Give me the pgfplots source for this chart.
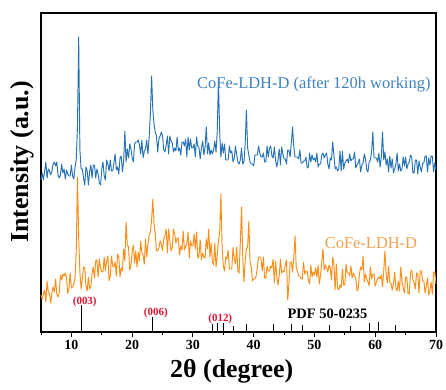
\documentclass[border=0pt]{standalone}
\usepackage{fontspec}
\setmainfont{Liberation Serif}
\usepackage{pgfplots}
\pgfplotsset{compat=1.18}
\definecolor{cblue}{RGB}{38,114,180}
\definecolor{cblueT}{RGB}{62,128,190}
\definecolor{corange}{RGB}{255,140,20}
\definecolor{corangeT}{RGB}{240,160,80}
\definecolor{cred}{RGB}{220,20,50}
\begin{document}
\begin{tikzpicture}
\begin{axis}[
  scale only axis, width=395bp, height=319bp,
  xmin=5, xmax=70, ymin=0, ymax=319,
  axis line style={line width=1.2pt},
  xtick={10,20,...,70}, minor xtick={5,15,...,65},
  ytick=\empty,
  xtick pos=bottom, tick align=outside,
  major tick length=5bp, minor tick length=3bp,
  every tick/.style={black, line width=1pt},
  /pgf/number format/assume math mode=true,
  xticklabel style={font=\fontsize{14}{16}\selectfont\bfseries},
  xlabel={2θ (degree)}, ylabel={Intensity (a.u.)},
  label style={font=\fontsize{26}{30}\selectfont\bfseries},
  xlabel style={at={(axis description cs:0.483,-0.122)}, anchor=center},
  ylabel style={at={(axis description cs:-0.048,0.533)}, anchor=center},
  clip=false,
]
\addplot[cblue, line width=0.95pt, line join=round] coordinates {
(5.0,152)(5.2,159)(5.4,152)(5.6,161)(5.8,170)(6.0,154)(6.2,163)(6.4,161)(6.6,157)(6.8,161)
(7.0,168)(7.2,170)(7.4,166)(7.6,170)(7.8,157)(8.0,154)(8.2,157)(8.4,168)(8.6,159)(8.8,163)
(9.0,153)(9.2,162)(9.4,158)(9.6,156)(9.8,156)(10.0,167)(10.2,156)(10.4,153)(10.6,165)(10.8,172)
(11.0,205)(11.2,295)(11.4,182)(11.6,163)(11.8,163)(12.0,154)(12.2,147)(12.4,165)(12.6,161)(12.8,147)
(13.0,160)(13.2,167)(13.4,154)(13.6,167)(13.8,167)(14.0,154)(14.2,163)(14.4,158)(14.6,149)(14.8,147)
(15.0,163)(15.2,170)(15.4,156)(15.6,152)(15.8,172)(16.0,168)(16.2,161)(16.4,172)(16.6,161)(16.8,161)
(17.0,169)(17.2,178)(17.4,162)(17.6,165)(17.8,158)(18.0,174)(18.2,176)(18.4,160)(18.6,171)(18.8,201)
(19.0,170)(19.2,183)(19.4,174)(19.6,188)(19.8,183)(20.0,174)(20.2,170)(20.4,188)(20.6,190)(20.8,190)
(21.0,192)(21.2,187)(21.4,178)(21.6,192)(21.8,174)(22.0,181)(22.2,183)(22.4,192)(22.6,178)(22.8,195)
(23.0,218)(23.2,256)(23.4,222)(23.6,208)(23.8,200)(24.0,196)(24.2,180)(24.4,193)(24.6,196)(24.8,200)
(25.0,196)(25.2,182)(25.4,180)(25.6,187)(25.8,196)(26.0,178)(26.2,196)(26.4,191)(26.6,189)(26.8,180)
(27.0,184)(27.2,181)(27.4,195)(27.6,181)(27.8,184)(28.0,177)(28.2,190)(28.4,190)(28.6,186)(28.8,193)
(29.0,175)(29.2,195)(29.4,182)(29.6,193)(29.8,184)(30.0,184)(30.2,188)(30.4,175)(30.6,195)(30.8,186)
(31.0,184)(31.2,173)(31.4,184)(31.6,191)(31.8,177)(32.0,185)(32.2,205)(32.4,178)(32.6,189)(32.8,177)
(33.0,182)(33.2,178)(33.4,182)(33.6,191)(33.8,180)(34.0,200)(34.2,253)(34.4,200)(34.6,175)(34.8,189)
(35.0,179)(35.2,188)(35.4,172)(35.6,172)(35.8,172)(36.0,186)(36.2,179)(36.4,181)(36.6,170)(36.8,174)
(37.0,186)(37.2,177)(37.4,170)(37.6,168)(37.8,172)(38.0,184)(38.2,168)(38.4,170)(38.6,188)(38.8,222)
(39.0,184)(39.2,177)(39.4,170)(39.6,168)(39.8,168)(40.0,166)(40.2,177)(40.4,177)(40.6,177)(40.8,186)
(41.0,179)(41.2,175)(41.4,175)(41.6,179)(41.8,170)(42.0,170)(42.2,186)(42.4,175)(42.6,184)(42.8,186)
(43.0,176)(43.2,174)(43.4,185)(43.6,172)(43.8,165)(44.0,172)(44.2,183)(44.4,167)(44.6,185)(44.8,178)
(45.0,173)(45.2,173)(45.4,168)(45.6,182)(45.8,182)(46.0,175)(46.2,190)(46.4,205)(46.6,185)(46.8,175)
(47.0,175)(47.2,175)(47.4,173)(47.6,182)(47.8,169)(48.0,169)(48.2,171)(48.4,171)(48.6,175)(48.8,164)
(49.0,165)(49.2,179)(49.4,170)(49.6,177)(49.8,172)(50.0,174)(50.2,170)(50.4,179)(50.6,165)(50.8,168)
(51.0,168)(51.2,177)(51.4,179)(51.6,174)(51.8,177)(52.0,179)(52.2,168)(52.4,163)(52.6,174)(52.8,172)
(53.0,190)(53.2,177)(53.4,163)(53.6,165)(53.8,161)(54.0,163)(54.2,181)(54.4,161)(54.6,181)(54.8,163)
(55.0,169)(55.2,171)(55.4,173)(55.6,169)(55.8,178)(56.0,171)(56.2,173)(56.4,173)(56.6,180)(56.8,164)
(57.0,167)(57.2,169)(57.4,173)(57.6,160)(57.8,167)(58.0,169)(58.2,178)(58.4,173)(58.6,162)(58.8,160)
(59.0,170)(59.2,172)(59.4,180)(59.6,200)(59.8,175)(60.0,174)(60.2,174)(60.4,170)(60.6,179)(60.8,165)
(61.0,175)(61.2,200)(61.4,172)(61.6,180)(61.8,167)(62.0,173)(62.2,160)(62.4,176)(62.6,164)(62.8,173)
(63.0,159)(63.2,163)(63.4,168)(63.6,179)(63.8,161)(64.0,168)(64.2,161)(64.4,163)(64.6,175)(64.8,166)
(65.0,175)(65.2,163)(65.4,168)(65.6,170)(65.8,177)(66.0,175)(66.2,159)(66.4,159)(66.6,172)(66.8,172)
(67.0,158)(67.2,171)(67.4,165)(67.6,160)(67.8,169)(68.0,169)(68.2,176)(68.4,176)(68.6,160)(68.8,174)
(69.0,167)(69.2,176)(69.4,176)(69.6,160)(69.8,169)(70.0,162)
};
\addplot[corange, line width=0.95pt, line join=round] coordinates {
(5.0,37)(5.2,33)(5.4,38)(5.6,42)(5.8,30)(6.0,51)(6.2,40)(6.4,38)(6.6,29)(6.8,39)
(7.0,45)(7.2,40)(7.4,53)(7.6,38)(7.8,35)(8.0,39)(8.2,57)(8.4,52)(8.6,58)(8.8,56)
(9.0,59)(9.2,54)(9.4,39)(9.6,43)(9.8,59)(10.0,44)(10.2,45)(10.4,48)(10.6,54)(10.8,80)
(11.0,155)(11.2,95)(11.4,60)(11.6,43)(11.8,53)(12.0,65)(12.2,65)(12.4,46)(12.6,41)(12.8,55)
(13.0,43)(13.2,45)(13.4,58)(13.6,65)(13.8,54)(14.0,71)(14.2,72)(14.4,55)(14.6,73)(14.8,64)
(15.0,60)(15.2,60)(15.4,75)(15.6,61)(15.8,71)(16.0,76)(16.2,51)(16.4,56)(16.6,76)(16.8,66)
(17.0,65)(17.2,70)(17.4,56)(17.6,78)(17.8,75)(18.0,55)(18.2,64)(18.4,61)(18.6,83)(18.8,71)
(19.0,110)(19.2,87)(19.4,85)(19.6,62)(19.8,67)(20.0,80)(20.2,87)(20.4,69)(20.6,81)(20.8,65)
(21.0,80)(21.2,71)(21.4,91)(21.6,79)(21.8,77)(22.0,68)(22.2,93)(22.4,75)(22.6,88)(22.8,97)
(23.0,100)(23.2,112)(23.4,133)(23.6,108)(23.8,98)(24.0,81)(24.2,81)(24.4,84)(24.6,91)(24.8,88)
(25.0,81)(25.2,93)(25.4,96)(25.6,103)(25.8,79)(26.0,103)(26.2,91)(26.4,81)(26.6,84)(26.8,103)
(27.0,98)(27.2,89)(27.4,94)(27.6,94)(27.8,77)(28.0,86)(28.2,82)(28.4,101)(28.6,82)(28.8,86)
(29.0,88)(29.2,100)(29.4,74)(29.6,91)(29.8,86)(30.0,86)(30.2,98)(30.4,83)(30.6,100)(30.8,74)
(31.0,76)(31.2,92)(31.4,72)(31.6,79)(31.8,75)(32.0,74)(32.2,93)(32.4,83)(32.6,103)(32.8,75)
(33.0,89)(33.2,70)(33.4,67)(33.6,89)(33.8,65)(34.0,77)(34.2,91)(34.4,100)(34.6,138)(34.8,85)
(35.0,66)(35.2,61)(35.4,75)(35.6,73)(35.8,82)(36.0,63)(36.2,63)(36.4,63)(36.6,85)(36.8,73)
(37.0,68)(37.2,85)(37.4,61)(37.6,59)(37.8,90)(38.0,125)(38.2,75)(38.4,50)(38.6,71)(38.8,83)
(39.0,85)(39.2,111)(39.4,70)(39.6,65)(39.8,51)(40.0,53)(40.2,53)(40.4,56)(40.6,65)(40.8,75)
(41.0,75)(41.2,73)(41.4,61)(41.6,75)(41.8,54)(42.0,54)(42.2,66)(42.4,61)(42.6,61)(42.8,66)
(43.0,64)(43.2,73)(43.4,49)(43.6,71)(43.8,56)(44.0,47)(44.2,56)(44.4,73)(44.6,59)(44.8,61)
(45.0,60)(45.2,67)(45.4,72)(45.6,32)(45.8,48)(46.0,70)(46.2,70)(46.4,60)(46.6,75)(46.8,96)
(47.0,65)(47.2,61)(47.4,56)(47.6,56)(47.8,53)(48.0,53)(48.2,70)(48.4,58)(48.6,61)(48.8,61)
(49.0,52)(49.2,48)(49.4,67)(49.6,55)(49.8,60)(50.0,57)(50.2,64)(50.4,55)(50.6,67)(50.8,48)
(51.0,57)(51.2,70)(51.4,83)(51.6,62)(51.8,67)(52.0,64)(52.2,60)(52.4,67)(52.6,64)(52.8,52)
(53.0,75)(53.2,68)(53.4,42)(53.6,68)(53.8,44)(54.0,42)(54.2,47)(54.4,44)(54.6,63)(54.8,47)
(55.0,47)(55.2,68)(55.4,59)(55.6,59)(55.8,56)(56.0,66)(56.2,54)(56.4,59)(56.6,56)(56.8,54)
(57.0,41)(57.2,43)(57.4,58)(57.6,65)(57.8,62)(58.0,76)(58.2,50)(58.4,58)(58.6,53)(58.8,50)
(59.0,46)(59.2,65)(59.4,53)(59.6,58)(59.8,58)(60.0,46)(60.2,50)(60.4,53)(60.6,55)(60.8,53)
(61.0,57)(61.2,45)(61.4,61)(61.6,81)(61.8,57)(62.0,49)(62.2,66)(62.4,49)(62.6,49)(62.8,42)
(63.0,48)(63.2,60)(63.4,44)(63.6,41)(63.8,51)(64.0,41)(64.2,65)(64.4,51)(64.6,44)(64.8,39)
(65.0,55)(65.2,55)(65.4,38)(65.6,38)(65.8,59)(66.0,62)(66.2,52)(66.4,50)(66.6,43)(66.8,59)
(67.0,58)(67.2,39)(67.4,61)(67.6,61)(67.8,51)(68.0,51)(68.2,39)(68.4,46)(68.6,54)(68.8,37)
(69.0,41)(69.2,50)(69.4,38)(69.6,60)(69.8,60)(70.0,48)
};
\addplot[ycomb, black, line width=0.9pt, no marks] coordinates {
(11.6,27)(23.4,15)(33.2,8)(34.0,9)(35.1,9)(36.6,6)(38.8,8)(43.3,8)(46.2,8)(48.0,7)(52.5,7)(56.0,6)(59.1,9)(60.5,10)(63.4,7)
};
\node[text=cred, font=\fontsize{11}{12}\selectfont\bfseries] at (axis cs:12.2,30) {(003)};
\node[text=cred, font=\fontsize{11}{12}\selectfont\bfseries] at (axis cs:23.9,19) {(006)};
\node[text=cred, font=\fontsize{11}{12}\selectfont\bfseries] at (axis cs:34.5,13) {(012)};
\node[text=black, font=\fontsize{14.5}{16}\selectfont\bfseries] at (axis cs:52.15,18) {PDF 50-0235};
\node[text=cblueT, font=\fontsize{16.5}{18}\selectfont] at (axis cs:49.9,248) {CoFe-LDH-D (after 120h working)};
\node[text=corangeT, font=\fontsize{16.5}{18}\selectfont] at (axis cs:59.3,89) {CoFe-LDH-D};
\end{axis}
\pgfresetboundingbox
\path[use as bounding box] ([xshift=-41bp,yshift=-58bp]current axis.south west) rectangle ([xshift=10bp,yshift=13bp]current axis.north east);
\end{tikzpicture}
\end{document}
